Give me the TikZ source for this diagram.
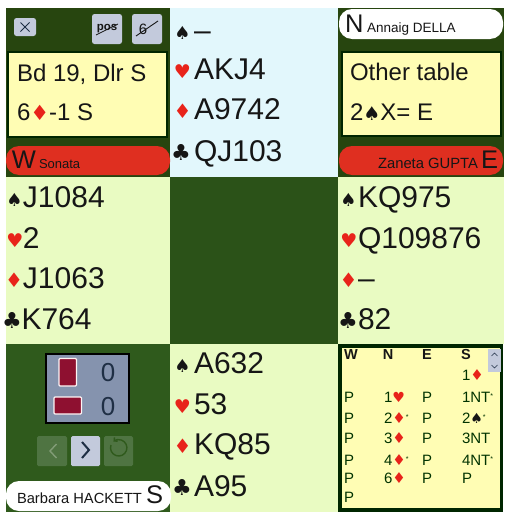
\documentclass[tikz,border=0pt]{standalone}
\usepackage{fontspec}
\usetikzlibrary{arrows.meta}
\setmainfont{Liberation Sans}
\newfontfamily\suitfont{DejaVu Sans}
\definecolor{felttop}{HTML}{27450F}
\definecolor{feltmid}{HTML}{2B5218}
\definecolor{feltlow}{HTML}{2F5A1C}
\definecolor{handgreen}{HTML}{E9FBC2}
\definecolor{handblue}{HTML}{E2F7FC}
\definecolor{paper}{HTML}{FFFDB4}
\definecolor{vulred}{HTML}{DF2F20}
\definecolor{suitred}{HTML}{E8231A}
\definecolor{btn}{HTML}{C3CADC}
\definecolor{btnoff}{HTML}{4F7442}
\definecolor{scorebg}{HTML}{8593AE}
\definecolor{cardred}{HTML}{8E1030}
\definecolor{inkblue}{HTML}{1F2F45}
\definecolor{inkdark}{HTML}{161616}
\newcommand{\cS}{{\suitfont\color{inkdark}♠}}
\newcommand{\cH}{{\suitfont\color{suitred}♥}}
\newcommand{\cD}{{\suitfont\color{suitred}♦}}
\newcommand{\cC}{{\suitfont\color{inkdark}♣}}
\newcommand{\hS}{{\fontsize{18}{18}\selectfont\cS}}
\newcommand{\hH}{{\fontsize{19}{19}\selectfont\cH}}
\newcommand{\hD}{{\fontsize{20}{20}\selectfont\cD}}
\newcommand{\hC}{{\fontsize{22}{22}\selectfont\cC}}
\tikzset{
  x=1pt,y=-1pt,
  plain/.style={inner sep=0pt,outer sep=0pt,text=inkdark},
  cardtext/.style={plain,anchor=base west,font=\fontsize{30}{30}\selectfont},
  suitglyph/.style={plain,anchor=base},
  boxtext/.style={plain,anchor=base west,font=\fontsize{24}{24}\selectfont},
  seat/.style={plain,anchor=base west,font=\fontsize{25.5}{26}\selectfont},
  pname/.style={plain,anchor=base west,font=\fontsize{13.5}{14}\selectfont},
  panelbox/.style={fill=paper,draw=black!85!green,line width=1.6pt},
  pill/.style={rounded corners=13pt},
  bid/.style={plain,anchor=base west,font=\fontsize{15}{15}\selectfont,text=black!80!green},
  bidhead/.style={plain,anchor=base,font=\bfseries\fontsize{14.5}{15}\selectfont},
  tool/.style={fill=btn,rounded corners=2.5pt},
  navoff/.style={fill=btnoff,rounded corners=1.5pt},
  redcard/.style={fill=cardred,draw=white!85!pink,line width=1.2pt,rounded corners=1pt},
  score/.style={plain,anchor=center,font=\fontsize{26}{26}\selectfont,text=inkblue}
}
\begin{document}
\begin{tikzpicture}
\useasboundingbox (0,0) rectangle (505,514);
\fill[white] (0,0) rectangle (505,514);
% cells
\fill[felttop] (6,8) rectangle (170,177);
\fill[handblue] (170,8) rectangle (338,177);
\fill[felttop] (338,8) rectangle (504,177);
\fill[handgreen] (6,177) rectangle (170,344);
\fill[feltmid] (170,177) rectangle (338,344);
\fill[handgreen] (338,177) rectangle (504,344);
\fill[feltlow] (6,344) rectangle (170,512);
\fill[handgreen] (170,344) rectangle (338,512);
% NW panel
\fill[tool] (14,18) rectangle (36,36);
\draw[inkblue,line width=1pt] (20.5,22.5) -- (29.5,31.5) (29.5,22.5) -- (20.5,31.5);
\fill[tool] (92,14) rectangle (122,44);
\node[plain,font=\bfseries\fontsize{11.5}{12}\selectfont] (posbtn) at (107,29) {pos};
\draw[inkdark,line width=.8pt] (96,35) -- (118,24);
\fill[tool] (132,14) rectangle (162,44);
\node[plain,font=\fontsize{15}{15}\selectfont] (sixbtn) at (143,29) {6};
\draw[inkdark,line width=.9pt] (136,36) -- (158,21);
\draw[panelbox] (8,52) rectangle (167,137);
\node[boxtext] (bd) at (17,81) {Bd 19, Dlr S};
\node[boxtext] (res) at (17,120) {6{\fontsize{21}{21}\selectfont\cD}-1 S};
\fill[vulred,pill] (6,146) rectangle (170,175);
\node[seat] (w) at (12,168) {W};
\node[pname,font=\fontsize{13}{13}\selectfont] (wn) at (39,168) {Sonata};
% NE panel
\fill[white,pill] (339,9) rectangle (503,39);
\node[seat] (n) at (345,32) {N};
\node[pname] (nn) at (367,32) {Annaig DELLA};
\draw[panelbox] (342,52) rectangle (501,136);
\node[boxtext] (ot) at (350,80) {Other table};
\node[boxtext] (ot2) at (350,120) {2{\fontsize{19}{19}\selectfont\cS}X= E};
\fill[vulred,pill] (339,146) rectangle (503,175);
\node[pname,font=\fontsize{14.8}{15}\selectfont] (en) at (378,168) {Zaneta GUPTA};
\node[seat] (e) at (481,168) {E};
% hands
\newcommand{\handline}[5]{%
  \node[suitglyph] at (#1,#3+9) {#4};
  \node[cardtext] at (#2,#3+10) {#5};}
\handline{182.5}{194}{30}{\hS}{--}
\handline{182.5}{194}{69}{\hH}{AKJ4}
\handline{182.5}{194}{109}{\hD}{A9742}
\handline{181}{194}{151}{\hC}{QJ103}
\handline{14.5}{23}{197}{\hS}{J1084}
\handline{15}{23}{238}{\hH}{2}
\handline{14}{23}{278}{\hD}{J1063}
\handline{12}{21.5}{319}{\hC}{K764}
\handline{348.5}{358}{197}{\hS}{KQ975}
\handline{349}{358}{238}{\hH}{Q109876}
\handline{348.5}{358}{278}{\hD}{--}
\handline{348}{358}{319}{\hC}{82}
\handline{182.5}{194}{363}{\hS}{A632}
\handline{182.5}{194}{404}{\hH}{53}
\handline{182.5}{194}{444}{\hD}{KQ85}
\handline{182}{194}{486}{\hC}{A95}
% SW panel
\draw[fill=scorebg,draw=black,line width=1.3pt] (46,354) rectangle (129,423);
\draw[redcard] (59,358.5) rectangle (76.5,386);
\draw[redcard] (54,397) rectangle (81.5,414);
\node[score] (nsscore) at (108,373) {0};
\node[score] (ewscore) at (108,407) {0};
\fill[navoff] (37,436) rectangle (67,466);
\draw[feltlow!60!white,line width=1.4pt] (56.5,444) -- (50,451) -- (56.5,458);
\fill[btn,rounded corners=1.5pt] (71,436) rectangle (100,466);
\draw[inkblue,line width=2pt] (82,442) -- (89,450) -- (82,458);
\fill[navoff] (104,436) rectangle (133,466);
\draw[feltlow,line width=1.4pt,-{Straight Barb[length=2.5pt]}] (111,445) arc[start angle=200,end angle=-130,radius=8.2];
\fill[white,pill] (6,481) rectangle (171,511);
\node[pname,font=\fontsize{14.7}{15}\selectfont] (sn) at (17,503) {Barbara HACKETT};
\node[seat] (s) at (146,503) {S};
% bidding
\draw[fill=paper,draw=black!85!green,line width=3.5pt] (340,346) rectangle (501.5,510);
\fill[btn] (488,349) rectangle (501,372);
\draw[inkblue,line width=.5pt] (491.5,356) -- (494.5,353) -- (497.5,356) (491.5,365) -- (494.5,368) -- (497.5,365);
\node[bidhead] (hw) at (351,359) {W};
\node[bidhead] (hn) at (388,359) {N};
\node[bidhead] (he) at (427,359) {E};
\node[bidhead] (hs) at (466,359) {S};
\newcommand{\bidS}{{\fontsize{14}{14}\selectfont\cS}}
\newcommand{\bidH}{{\fontsize{14}{14}\selectfont\cH}}
\newcommand{\bidD}{{\fontsize{15}{15}\selectfont\cD}}
\newcommand{\alrt}{\raisebox{4pt}{\fontsize{7}{7}\selectfont *}}
\node[bid] at (462,380) {1\bidD};
\node[bid] at (344,402) {P};
\node[bid] at (384,402) {1\bidH};
\node[bid] at (422,402) {P};
\node[bid] at (462,402) {1NT\alrt};
\node[bid] at (344,423) {P};
\node[bid] at (384,423) {2\bidD\alrt};
\node[bid] at (422,423) {P};
\node[bid] at (462,423) {2\bidS\alrt};
\node[bid] at (344,443) {P};
\node[bid] at (384,443) {3\bidD};
\node[bid] at (422,443) {P};
\node[bid] at (462,443) {3NT};
\node[bid] at (344,465) {P};
\node[bid] at (384,465) {4\bidD\alrt};
\node[bid] at (422,465) {P};
\node[bid] at (462,465) {4NT\alrt};
\node[bid] at (344,483) {P};
\node[bid] at (384,483) {6\bidD};
\node[bid] at (422,483) {P};
\node[bid] at (462,483) {P};
\node[bid] at (344,502) {P};
\end{tikzpicture}
\end{document}
